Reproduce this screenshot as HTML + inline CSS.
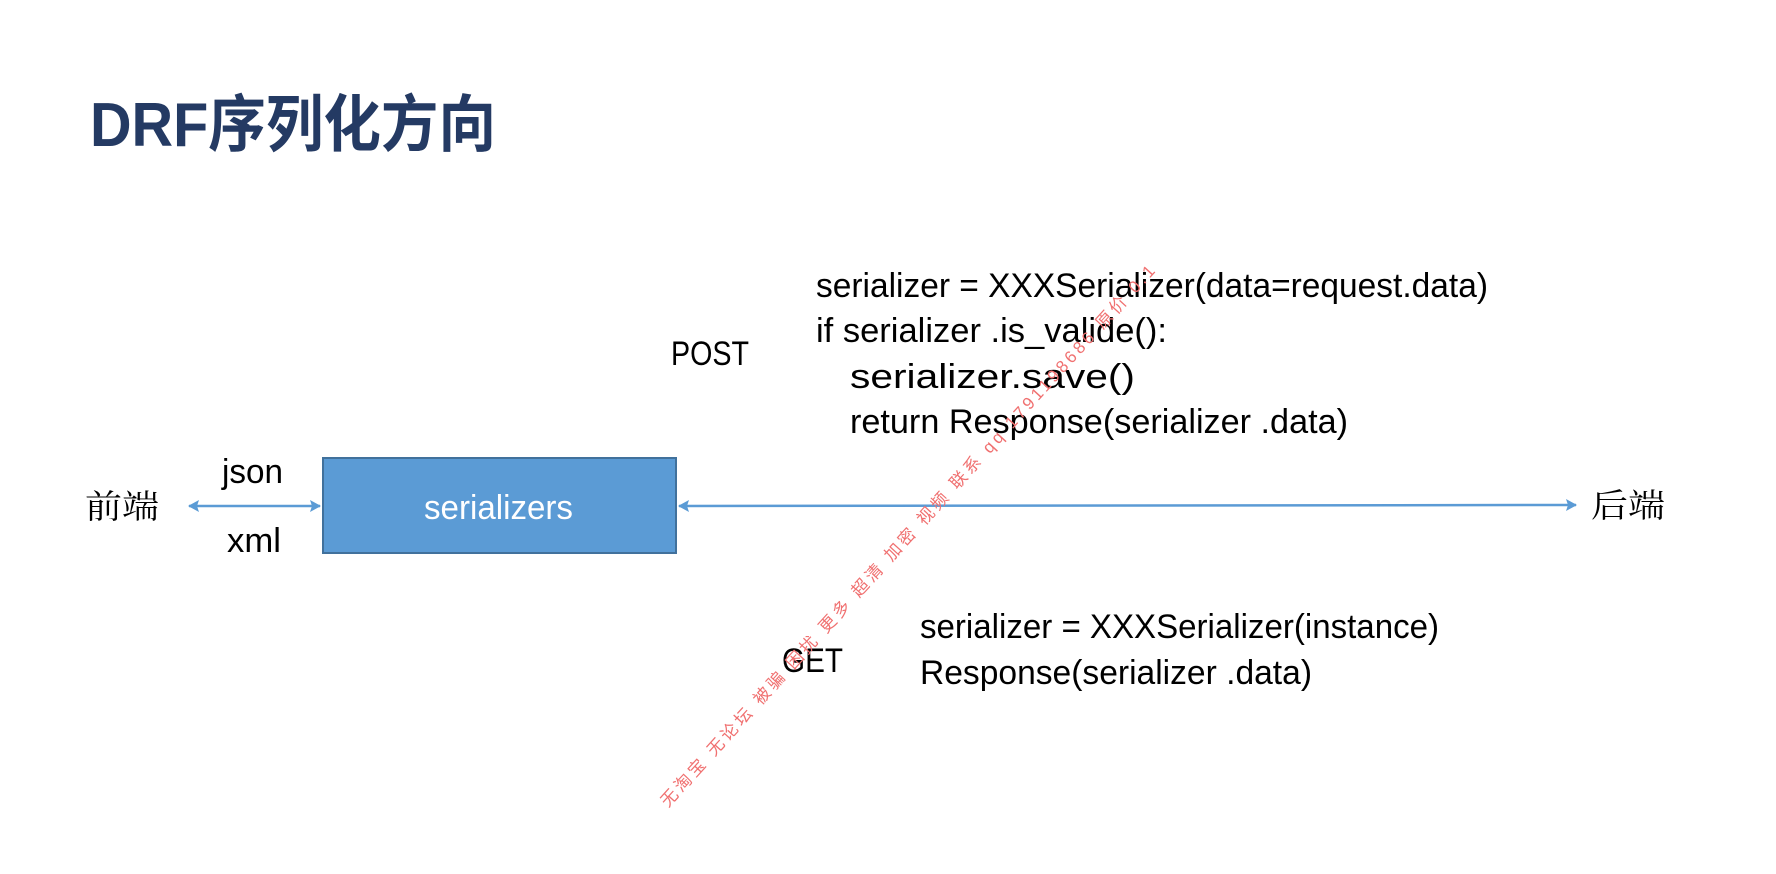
<!DOCTYPE html>
<html><head><meta charset="utf-8"><style>
html,body{margin:0;padding:0;background:#fff;}
svg{display:block;}
</style></head><body>
<svg width="1776" height="874" viewBox="0 0 1776 874" xmlns="http://www.w3.org/2000/svg">
<defs>
<marker id="ah" markerWidth="14" markerHeight="14" refX="10" refY="6" orient="auto-start-reverse" markerUnits="userSpaceOnUse">
<path d="M0,0 L11,6 L0,12 L2,6 Z" fill="#5b9bd5"/>
</marker>
</defs>
<text x="90" y="146" font-family="'Liberation Sans','Noto Sans CJK SC',sans-serif" font-weight="bold" font-size="62" fill="#243a63" textLength="406" lengthAdjust="spacingAndGlyphs">DRF序列化方向</text>

<g font-family="'Liberation Sans','Noto Sans CJK SC',sans-serif" font-size="34" fill="#000">
<text x="85" y="518" font-size="33" font-family="'Noto Serif CJK SC','Noto Sans CJK SC',serif" textLength="74" lengthAdjust="spacingAndGlyphs">前端</text>
<text x="1591" y="517" font-size="33" font-family="'Noto Serif CJK SC','Noto Sans CJK SC',serif" textLength="74" lengthAdjust="spacingAndGlyphs">后端</text>
<text x="222" y="483" textLength="61" lengthAdjust="spacingAndGlyphs">json</text>
<text x="227" y="552" textLength="54" lengthAdjust="spacingAndGlyphs">xml</text>
<text x="671" y="365" textLength="78" lengthAdjust="spacingAndGlyphs">POST</text>
<text x="782" y="672" textLength="61" lengthAdjust="spacingAndGlyphs">GET</text>
<text x="816" y="297" textLength="672" lengthAdjust="spacingAndGlyphs">serializer = XXXSerializer(data=request.data)</text>
<text x="816" y="342" textLength="351" lengthAdjust="spacingAndGlyphs">if serializer .is_valide():</text>
<text x="850" y="388" textLength="285" lengthAdjust="spacingAndGlyphs">serializer.save()</text>
<text x="850" y="433" textLength="498" lengthAdjust="spacingAndGlyphs">return Response(serializer .data)</text>
<text x="920" y="638" textLength="519" lengthAdjust="spacingAndGlyphs">serializer = XXXSerializer(instance)</text>
<text x="920" y="684" textLength="392" lengthAdjust="spacingAndGlyphs">Response(serializer .data)</text>
</g>

<rect x="323" y="458" width="353" height="95" fill="#5b9bd5" stroke="#41719c" stroke-width="2"/>
<text x="424" y="519" font-family="'Liberation Sans',sans-serif" font-size="34" fill="#fff" textLength="149" lengthAdjust="spacingAndGlyphs">serializers</text>

<line x1="189" y1="506" x2="320" y2="506" stroke="#5b9bd5" stroke-width="2.5" marker-start="url(#ah)" marker-end="url(#ah)"/>
<line x1="679" y1="506" x2="1576" y2="505" stroke="#5b9bd5" stroke-width="2.5" marker-start="url(#ah)" marker-end="url(#ah)"/>

<text transform="translate(668,808) rotate(-47.7)" font-family="'Liberation Sans','Noto Sans CJK SC',sans-serif" font-size="17" fill="#f07070" textLength="725" lengthAdjust="spacing">无淘宝 无论坛 被骗 困扰  更多 超清 加密 视频 联系 qq 1791198686 原价 0.1</text>
</svg>
</body></html>
